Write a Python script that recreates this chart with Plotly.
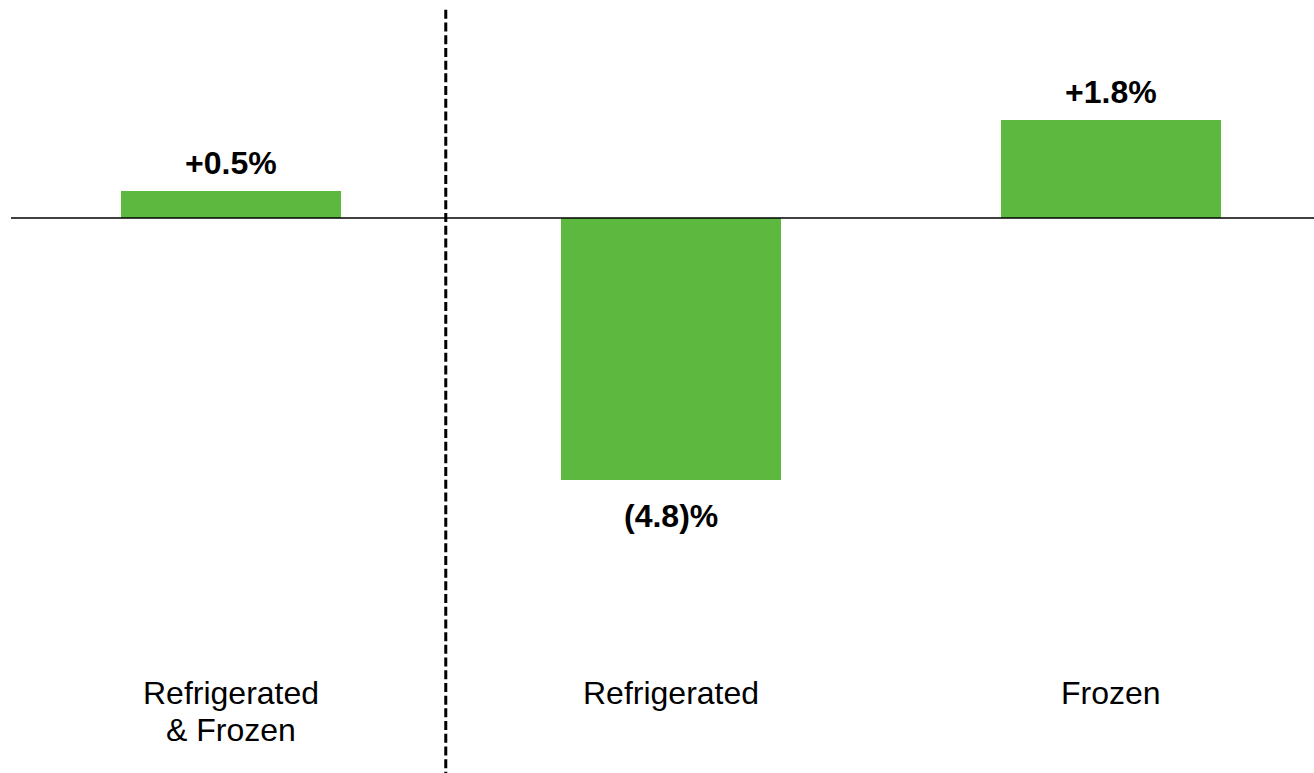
import plotly.graph_objects as go

# Change in sales, percent
categories = ["Refrigerated<br>& Frozen", "Refrigerated", "Frozen"]
values = [0.5, -4.8, 1.8]

BAR_COLOR = "#5cb83e"
FONT = "Liberation Sans, Arial, sans-serif"
LINE_STEP = 37  # px between lines of a category label


def fmt(v):
    return f"+{v:.1f}%" if v >= 0 else f"({abs(v):.1f})%"


x_pos = list(range(len(categories)))

fig = go.Figure()
fig.add_trace(go.Bar(
    x=x_pos, y=values, width=0.5,
    marker=dict(color=BAR_COLOR, line=dict(width=0)),
    hoverinfo="skip", showlegend=False,
))

# value labels just beyond each bar end
for xi, v in zip(x_pos, values):
    fig.add_annotation(
        x=xi, y=v, text=f"<b>{fmt(v)}</b>", showarrow=False,
        yanchor="bottom" if v >= 0 else "top",
        yshift=8 if v >= 0 else -16,
        font=dict(family=FONT, size=32, color="#000000"),
    )

# category labels along the bottom, one annotation per line for tighter spacing
for xi, c in zip(x_pos, categories):
    for li, line in enumerate(c.split("<br>")):
        fig.add_annotation(
            x=xi, y=-8.33, text=line, showarrow=False, yanchor="top",
            yshift=-LINE_STEP * li,
            font=dict(family=FONT, size=32, color="#000000"),
        )

Y_TOP, Y_BOTTOM = 3.99, -10.16
X_LEFT, X_RIGHT = -0.525, 2.461

# baseline at zero
fig.add_shape(type="line", x0=-0.5, x1=X_RIGHT, y0=0, y1=0,
              line=dict(color="#000000", width=1.5), layer="above")
# dashed divider between the total and its parts
fig.add_shape(type="line", x0=0.488, x1=0.488, y0=3.81, y1=Y_BOTTOM,
              line=dict(color="#000000", width=3, dash="9px,3.7px"), layer="above")

fig.update_layout(
    width=1314, height=773,
    margin=dict(l=0, r=0, t=0, b=0),
    paper_bgcolor="white", plot_bgcolor="white",
    xaxis=dict(range=[X_LEFT, X_RIGHT], visible=False, fixedrange=True),
    yaxis=dict(range=[Y_BOTTOM, Y_TOP], visible=False, fixedrange=True),
    bargap=0,
)

fig.write_html("out.html")
